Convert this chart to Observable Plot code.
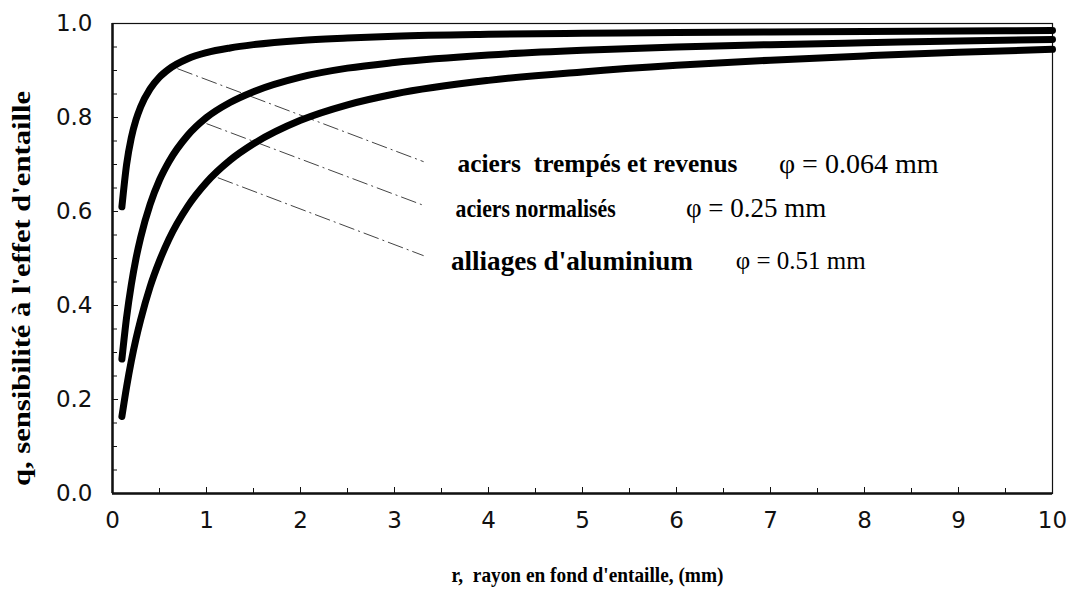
<!DOCTYPE html>
<html>
<head>
<meta charset="utf-8">
<script src="https://cdn.jsdelivr.net/npm/d3@7"></script>
<script src="https://cdn.jsdelivr.net/npm/@observablehq/plot@0.6"></script>
<style>
  html, body { margin: 0; padding: 0; background: #ffffff; }
  #chart svg { display: block; }
</style>
</head>
<body>
<div id="chart"></div>
<script>
// Notch radius r (mm) at which the three curves are sampled
const rayon = [0.1, 0.15, 0.2, 0.25, 0.3, 0.4, 0.5, 0.6, 0.8, 1, 1.25, 1.5, 2, 2.5, 3, 4, 5, 6, 7, 8, 9, 10];

// Notch sensitivity q for each material family
const qTrempes    = [0.61, 0.70, 0.757, 0.795, 0.823, 0.861, 0.886, 0.903, 0.925, 0.938, 0.948, 0.955, 0.964, 0.969, 0.973, 0.977, 0.979, 0.981, 0.982, 0.983, 0.984, 0.985];
const qNormalises = [0.286, 0.375, 0.444, 0.50, 0.545, 0.615, 0.667, 0.706, 0.762, 0.800, 0.832, 0.855, 0.886, 0.905, 0.917, 0.933, 0.943, 0.950, 0.955, 0.959, 0.963, 0.966];
const qAluminium  = [0.164, 0.227, 0.282, 0.329, 0.370, 0.440, 0.495, 0.541, 0.611, 0.662, 0.709, 0.744, 0.794, 0.827, 0.850, 0.879, 0.897, 0.911, 0.922, 0.931, 0.939, 0.945];

const materiaux = ["aciers  trempés et revenus", "aciers normalisés", "alliages d'aluminium"];
const phiLabels = ["φ = 0.064 mm", "φ = 0.25 mm", "φ = 0.51 mm"];

const xTicks = [0, 1, 2, 3, 4, 5, 6, 7, 8, 9, 10];
const xMinorTicks = [0.5, 1.5, 2.5, 3.5, 4.5, 5.5, 6.5, 7.5, 8.5, 9.5];
const yTicks = [0, 0.2, 0.4, 0.6, 0.8, 1.0];
const yTickLabels = ["0.0", "0.2", "0.4", "0.6", "0.8", "1.0"];
const yMinorTicks = [0.05, 0.1, 0.15, 0.25, 0.3, 0.35, 0.45, 0.5, 0.55, 0.65, 0.7, 0.75, 0.85, 0.9, 0.95];

const titreX = "r,  rayon en fond d'entaille, (mm)";
const titreY = "q, sensibilité à l'effet d'entaille";

// long table: one row per (material, r)
const courbes = [qTrempes, qNormalises, qAluminium];
const rows = courbes.flatMap((qs, k) => rayon.map((r, i) => ({serie: materiaux[k], r, q: qs[i]})));

// leader lines from a point on each curve to its label (data units)
const leaders = [
  {x1: 0.69, y1: 0.904, x2: 3.31, y2: 0.706},
  {x1: 1.00, y1: 0.787, x2: 3.31, y2: 0.613},
  {x1: 1.12, y1: 0.672, x2: 3.31, y2: 0.506}
];
// label anchors (data units), type sizes and set widths of the condensed bold labels
const nameAnchors = [{x: 3.67, y: 0.702, size: 25, len: 280}, {x: 3.65, y: 0.606, size: 25, len: 160}, {x: 3.60, y: 0.494, size: 27, len: 242}];
const phiAnchors  = [{x: 7.09, y: 0.702, size: 28}, {x: 6.10, y: 0.606, size: 27}, {x: 6.63, y: 0.494, size: 25}];

const sans = "'DejaVu Sans', Verdana, sans-serif";
const serif = "'Liberation Serif', 'Times New Roman', Times, serif";

const chart = Plot.plot({
  width: 1068,
  height: 594,
  marginLeft: 112,
  marginRight: 16,
  marginTop: 23,
  marginBottom: 101,
  style: {background: "#ffffff", color: "#111"},
  x: {domain: [0, 10], label: null},
  y: {domain: [0, 1], label: null},
  marks: [
    Plot.frame({stroke: "#111", strokeWidth: 1.2}),
    Plot.ruleX([0], {stroke: "#111", strokeWidth: 2.5}),
    Plot.ruleY([0], {stroke: "#111", strokeWidth: 2.5}),

    // axes with inward ticks
    Plot.axisX(xTicks, {tickSize: -6, tickPadding: 24, fontSize: 23, fontFamily: sans, label: null, stroke: "#111", fill: "#111"}),
    Plot.axisX(xMinorTicks, {tickSize: -5, tickFormat: () => "", label: null, stroke: "#111"}),
    Plot.axisY(yTicks, {tickSize: -6, tickPadding: 26, fontSize: 23, fontFamily: sans, label: null, stroke: "#111", fill: "#111",
      tickFormat: (d) => yTickLabels[yTicks.indexOf(d)]}),
    Plot.axisY(yMinorTicks, {tickSize: -5, tickFormat: () => "", label: null, stroke: "#111"}),

    // leader lines
    Plot.link(leaders, {x1: "x1", y1: "y1", x2: "x2", y2: "y2", stroke: "#444", strokeWidth: 1, strokeDasharray: "16,4,2,4"}),

    // curves
    Plot.line(rows, {x: "r", y: "q", z: "serie", stroke: "#000", strokeWidth: 7, curve: "monotone-x",
      strokeLinecap: "round", strokeLinejoin: "round"}),

    // annotations
    Plot.text(materiaux, {x: (d, i) => nameAnchors[i].x, y: (d, i) => nameAnchors[i].y, text: (d) => d,
      fontSize: (d, i) => nameAnchors[i].size,
      textAnchor: "start", fontFamily: serif, fontWeight: "bold", fill: "#000"}),
    Plot.text(phiLabels, {x: (d, i) => phiAnchors[i].x, y: (d, i) => phiAnchors[i].y, text: (d) => d,
      fontSize: (d, i) => phiAnchors[i].size,
      textAnchor: "start", fontFamily: serif, fill: "#000"}),

    // axis titles
    Plot.text([titreX], {frameAnchor: "bottom", dx: 5, dy: 88, fontFamily: serif, fontWeight: "bold", fontSize: 20, fill: "#000"}),
    Plot.text([titreY], {frameAnchor: "left", textAnchor: "middle", rotate: -90, dx: -91, dy: 30,
      fontFamily: serif, fontWeight: "bold", fontSize: 25, fill: "#000"})
  ]
});

// condensed setting of the bold labels
const textGroups = chart.querySelectorAll('g[aria-label="text"]');
textGroups[0].querySelectorAll("text").forEach((t, i) => {
  t.setAttribute("textLength", nameAnchors[i].len);
  t.setAttribute("lengthAdjust", "spacingAndGlyphs");
});
textGroups[2].querySelectorAll("text").forEach((t) => {
  t.setAttribute("textLength", 272);
  t.setAttribute("lengthAdjust", "spacingAndGlyphs");
});
textGroups[3].querySelectorAll("text").forEach((t) => {
  t.setAttribute("textLength", 395);
  t.setAttribute("lengthAdjust", "spacingAndGlyphs");
});

document.getElementById("chart").appendChild(chart);
</script>
</body>
</html>
